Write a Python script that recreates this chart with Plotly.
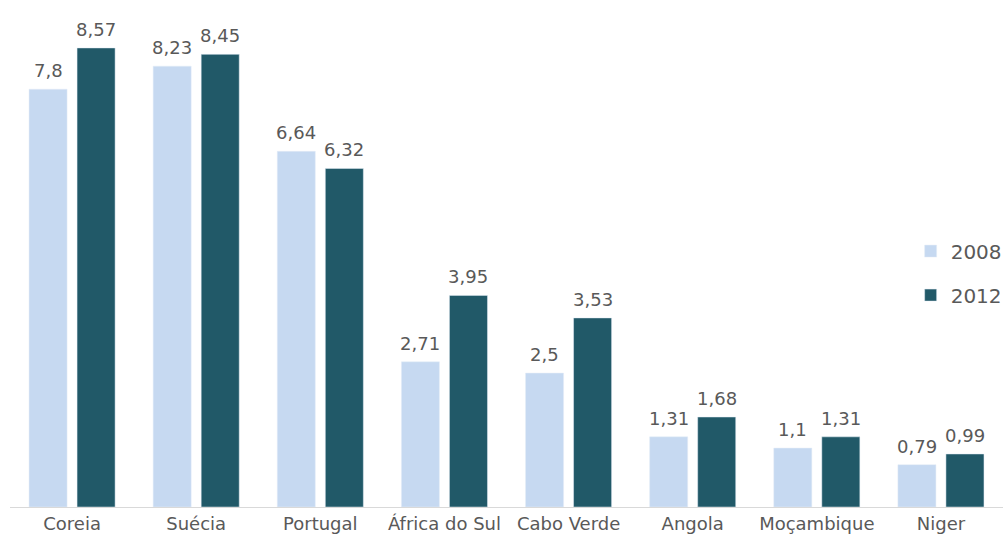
import plotly.graph_objects as go

categories = ["Coreia", "Suécia", "Portugal", "África do Sul", "Cabo Verde", "Angola", "Moçambique", "Niger"]
values_2008 = [7.8, 8.23, 6.64, 2.71, 2.5, 1.31, 1.1, 0.79]
values_2012 = [8.57, 8.45, 6.32, 3.95, 3.53, 1.68, 1.31, 0.99]
series_names = ["2008", "2012"]

c2008 = "#C6D9F1"
c2012 = "#215968"
grey = "#595959"
FONT = "DejaVu Sans"

fig = go.Figure()
fig.add_trace(go.Bar(x=categories, y=values_2008, name=series_names[0], marker_color=c2008,
                     legendgroup="a"))
fig.add_trace(go.Bar(x=categories, y=values_2012, name=series_names[1], marker_color=c2012,
                     legendgroup="b"))

def fmt(v):
    return ("%g" % v).replace(".", ",")

for vals, shift in ((values_2008, -24), (values_2012, 24)):
    for c, v in zip(categories, vals):
        fig.add_annotation(x=c, y=v, text=fmt(v), showarrow=False, xshift=shift,
                           yanchor="bottom", yshift=6,
                           font=dict(family=FONT, size=18, color=grey))

fig.update_layout(
    width=1005, height=542,
    margin=dict(l=10, r=2, t=4, b=35, autoexpand=False),
    paper_bgcolor="white", plot_bgcolor="white",
    barmode="group", bargap=0.226, bargroupgap=0.208,
    font=dict(family=FONT, size=18, color=grey),
    legend=dict(x=0.907, y=0.465, xanchor="left", yanchor="middle",
                font=dict(family=FONT, size=20, color=grey),
                tracegroupgap=15, bgcolor="rgba(0,0,0,0)"),
    xaxis=dict(showline=True, linecolor="#D9D9D9", linewidth=1, ticks="",
               tickfont=dict(family=FONT, size=18, color=grey)),
    yaxis=dict(range=[0, 9.39], visible=False, showgrid=False, zeroline=False),
)

fig.write_html("out.html")
